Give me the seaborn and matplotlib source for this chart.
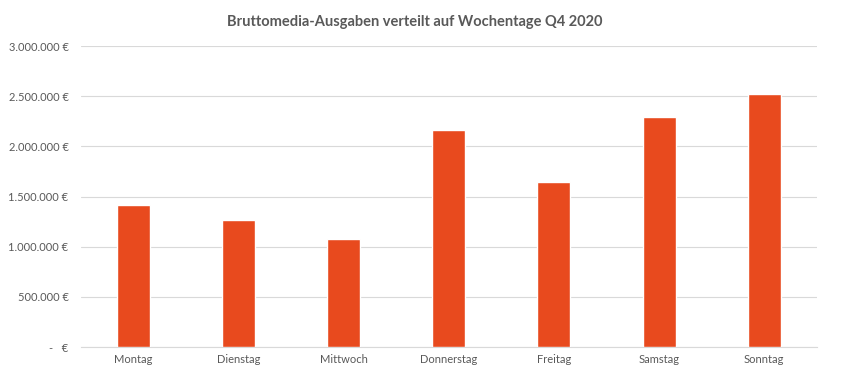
import matplotlib
matplotlib.use("Agg")
import matplotlib.pyplot as plt
import seaborn as sns
from matplotlib.ticker import FuncFormatter, MultipleLocator

# data
days = ["Montag", "Dienstag", "Mittwoch", "Donnerstag", "Freitag", "Samstag", "Sonntag"]
spend = [1418000, 1268000, 1078000, 2162000, 1645000, 2293000, 2518000]

bar_color = "#E84A1E"
text_color = "#595959"
grid_color = "#D9D9D9"

sns.set_theme(style="white")
plt.rcParams["font.family"] = ["Lato", "DejaVu Sans"]

fig = plt.figure(figsize=(8.43, 3.79), dpi=100)
ax = fig.add_axes([0.0961, 0.0844, 0.8727, 0.7942])

sns.barplot(x=days, y=spend, color=bar_color, saturation=1, width=0.314, ax=ax, zorder=3)

ax.set_xlim(-0.5, 6.5)
ax.set_ylim(0, 3000000)
ax.yaxis.set_major_locator(MultipleLocator(500000))


def euro(v, pos):
    if v == 0:
        return "-   €"
    return f"{int(v):,}".replace(",", ".") + " €"


ax.yaxis.set_major_formatter(FuncFormatter(euro))
ax.grid(axis="y", color=grid_color, linewidth=0.8, zorder=0)
ax.set_axisbelow(True)
for s in ["top", "right", "left"]:
    ax.spines[s].set_visible(False)
ax.spines["bottom"].set_color(grid_color)
ax.spines["bottom"].set_linewidth(0.8)

ax.tick_params(axis="both", length=0, labelsize=8, colors=text_color)
ax.tick_params(axis="y", pad=9)
ax.tick_params(axis="x", pad=5)
ax.set_xlabel("")
ax.set_ylabel("")

fig.text(0.492, 0.942, "Bruttomedia-Ausgaben verteilt auf Wochentage Q4 2020",
         ha="center", va="center", fontsize=10.5, fontweight="bold", color=text_color)

fig.savefig("out.png", dpi=100, facecolor="white")
